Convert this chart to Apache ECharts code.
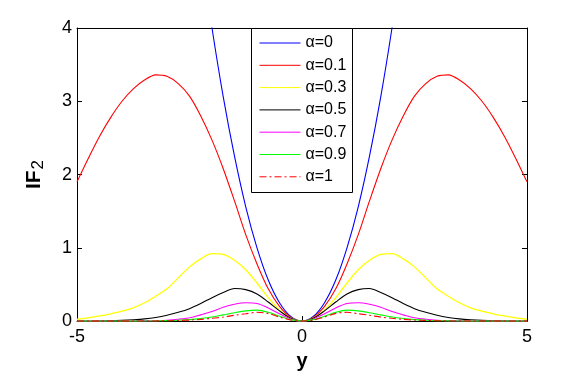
<!DOCTYPE html>
<html>
<head>
<meta charset="utf-8">
<script src="https://cdn.jsdelivr.net/npm/echarts@6/dist/echarts.min.js"></script>
<style>
  html, body { margin: 0; padding: 0; background: #fff; }
  #chart { width: 582px; height: 376px; }
</style>
</head>
<body>
<div id="chart"></div>
<script>
// y positions (x axis)
var yPos = [-5, -4.75, -4.5, -4.25, -4, -3.75, -3.5, -3.25, -3, -2.75, -2.5, -2.25, -2, -1.75,
  -1.5, -1.25, -1, -0.75, -0.5, -0.25, 0, 0.25, 0.5, 0.75, 1, 1.25, 1.5, 1.75,
  2, 2.25, 2.5, 2.75, 3, 3.25, 3.5, 3.75, 4, 4.25, 4.5, 4.75, 5]

// IF2 values, one array per alpha
var a0 = [null, null, null, null, null, null, null, null, null, null, 6.25, 5.06, 4, 3.06,
  2.25, 1.56, 1, 0.56, 0.25, 0.0625, 0, 0.0625, 0.25, 0.56, 1, 1.56, 2.25, 3.06,
  4, 5.06, 6.25, null, null, null, null, null, null, null, null, null, null]
var a01 = [1.9, 2.22, 2.52, 2.78, 3.0, 3.17, 3.29, 3.36, 3.34, 3.24, 3.07, 2.8, 2.47, 2.08,
  1.64, 1.18, 0.78, 0.44, 0.2, 0.05, 0, 0.05, 0.2, 0.44, 0.78, 1.18, 1.64, 2.08,
  2.47, 2.8, 3.07, 3.24, 3.34, 3.36, 3.29, 3.17, 3.0, 2.78, 2.52, 2.22, 1.9]
var a03 = [0.025, 0.045, 0.07, 0.1, 0.135, 0.18, 0.25, 0.34, 0.44, 0.59, 0.74, 0.85, 0.92, 0.91,
  0.83, 0.7, 0.52, 0.32, 0.15, 0.04, 0, 0.04, 0.15, 0.32, 0.52, 0.7, 0.83, 0.91,
  0.92, 0.85, 0.74, 0.59, 0.44, 0.34, 0.25, 0.18, 0.135, 0.1, 0.07, 0.045, 0.025]
var a05 = [0, 0.001, 0.003, 0.006, 0.01, 0.018, 0.03, 0.05, 0.08, 0.12, 0.17, 0.24, 0.32, 0.39,
  0.445, 0.43, 0.37, 0.26, 0.14, 0.04, 0, 0.04, 0.14, 0.26, 0.37, 0.43, 0.445, 0.39,
  0.32, 0.24, 0.17, 0.12, 0.08, 0.05, 0.03, 0.018, 0.01, 0.006, 0.003, 0.001, 0]
var a07 = [0, 0, 0, 0, 0.001, 0.001, 0.003, 0.006, 0.012, 0.025, 0.045, 0.085, 0.13, 0.19,
  0.23, 0.25, 0.24, 0.18, 0.1, 0.03, 0, 0.03, 0.1, 0.18, 0.24, 0.25, 0.23, 0.19,
  0.13, 0.085, 0.045, 0.025, 0.012, 0.006, 0.003, 0.001, 0.001, 0, 0, 0, 0]
var a09 = [0, 0, 0, 0, 0, 0, 0.001, 0.003, 0.006, 0.011, 0.02, 0.035, 0.055, 0.085,
  0.115, 0.14, 0.15, 0.12, 0.065, 0.02, 0, 0.02, 0.065, 0.12, 0.15, 0.14, 0.115, 0.085,
  0.055, 0.035, 0.02, 0.011, 0.006, 0.003, 0.001, 0, 0, 0, 0, 0, 0]
var a1 = [0, 0, 0, 0, 0, 0, 0.001, 0.002, 0.004, 0.008, 0.014, 0.024, 0.038, 0.055,
  0.08, 0.1, 0.12, 0.105, 0.055, 0.015, 0, 0.015, 0.055, 0.105, 0.12, 0.1, 0.08, 0.055,
  0.038, 0.024, 0.014, 0.008, 0.004, 0.002, 0.001, 0, 0, 0, 0, 0, 0]

var names = ['α=0', 'α=0.1', 'α=0.3', 'α=0.5', 'α=0.7', 'α=0.9', 'α=1']
var colors = ['#0000ff', '#ff0000', '#ffff00', '#000000', '#ff00ff', '#00ff00', '#ff0000']
var values = [a0, a01, a03, a05, a07, a09, a1]

var font = 'Liberation Sans, Arial, Helvetica, sans-serif'

function pairs(vals) {
  return yPos.map(function (x, i) { return [x, vals[i]] })
}

var series = names.map(function (n, i) {
  return {
    name: n,
    type: 'line',
    data: pairs(values[i]),
    symbol: 'none',
    smooth: 0.3,
    clip: true,
    lineStyle: {
      color: colors[i],
      width: i === 2 ? 1.3 : 1.1,
      type: i === 6 ? [7, 3, 2, 3] : 'solid'
    },
    itemStyle: { color: colors[i] }
  }
})

var chart = echarts.init(document.getElementById('chart'))
chart.setOption({
  animation: false,
  backgroundColor: '#fff',
  textStyle: { fontFamily: font },
  grid: { left: 77, right: 55, top: 28, bottom: 54 },
  xAxis: [{
    type: 'value',
    min: -5,
    max: 5,
    interval: 5,
    position: 'bottom',
    axisLine: { onZero: false, lineStyle: { color: '#000', width: 1 } },
    axisTick: { inside: true, length: 5, lineStyle: { color: '#000' } },
    axisLabel: { color: '#000', fontSize: 18, fontFamily: font, margin: 7 },
    splitLine: { show: false },
    name: 'y',
    nameLocation: 'middle',
    nameGap: 29,
    nameTextStyle: { color: '#000', fontSize: 20, fontWeight: 'bold', fontFamily: font }
  }, {
    type: 'value',
    min: -5,
    max: 5,
    interval: 5,
    position: 'top',
    axisLine: { onZero: false, lineStyle: { color: '#000', width: 1 } },
    axisTick: { inside: true, length: 5, lineStyle: { color: '#000' } },
    axisLabel: { show: false },
    splitLine: { show: false }
  }],
  yAxis: [{
    type: 'value',
    min: 0,
    max: 4,
    interval: 1,
    position: 'left',
    axisLine: { show: true, onZero: false, lineStyle: { color: '#000', width: 1 } },
    axisTick: { show: true, inside: true, length: 5, lineStyle: { color: '#000' } },
    axisLabel: { color: '#000', fontSize: 18, fontFamily: font, margin: 5 },
    splitLine: { show: false },
    name: '{a|IF}{b|2}',
    nameLocation: 'middle',
    nameGap: 30,
    nameRotate: 90,
    nameTextStyle: {
      rich: {
        a: { fontSize: 21, fontWeight: 'bold', color: '#000', fontFamily: font },
        b: { fontSize: 17, color: '#000', fontFamily: font, padding: [8, 0, 0, 1] }
      }
    }
  }, {
    type: 'value',
    min: 0,
    max: 4,
    interval: 1,
    position: 'right',
    axisLine: { show: true, onZero: false, lineStyle: { color: '#000', width: 1 } },
    axisTick: { show: true, inside: true, length: 5, lineStyle: { color: '#000' } },
    axisLabel: { show: false },
    splitLine: { show: false }
  }],
  legend: {
    orient: 'vertical',
    left: 251,
    top: 28,
    z: 5,
    padding: [7, 7, 8, 8],
    itemWidth: 41,
    itemHeight: 14,
    itemGap: 6.3,
    itemStyle: { opacity: 0 },
    lineStyle: { width: 1 },
    textStyle: { color: '#000', fontSize: 16, fontFamily: font },
    data: names
  },
  graphic: [{
    type: 'rect',
    z: 3,
    shape: { x: 251.5, y: 28.5, width: 101, height: 164 },
    style: { fill: '#fff', stroke: '#000', lineWidth: 1 }
  }],
  series: series
})
</script>
</body>
</html>
